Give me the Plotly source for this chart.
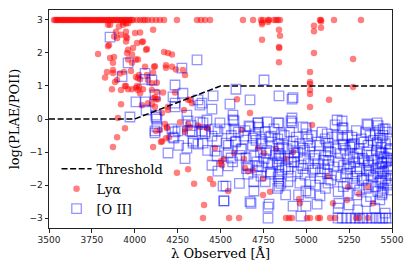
import plotly.graph_objects as go

# threshold curve
thr_wave = [3500, 4000, 4500, 5500]
thr_ratio = [0, 0, 1, 1]

# Lya sources: top row clipped at 3
lya_top_wave = [
    3529, 3538, 3546, 3553, 3561, 3570, 3578, 3586, 3594, 3603, 3611, 3619,
    3628, 3636, 3645, 3653, 3662, 3670, 3679, 3688, 3697, 3705, 3714, 3722,
    3731, 3740, 3748, 3757, 3766, 3775, 3783, 3792, 3800, 3809, 3818, 3826,
    3835, 3844, 3852, 3861, 3870, 3878, 3887, 3896, 3904, 3913, 3921, 3930,
    3939, 3947, 3956, 3965, 3973, 3982, 3990, 4013, 4031, 4048, 4060, 4077,
    4100, 4124, 4147, 4171, 4246, 4363, 4386, 4410, 4439, 4631, 4690, 4736,
    4748, 4777, 4783, 4812, 4824, 4835, 4847, 5080, 5086, 5162, 5319,
]

lya_wave = [
    3844, 3856, 3908, 3949, 3932, 3891, 3920, 3897, 3949, 3949,
    3955, 4002, 4031, 4107, 3844, 3850, 3880, 3949, 4013, 4042,
    4048, 3961, 3955, 3984, 3990, 4066, 4071, 3786, 3856, 3879,
    3873, 3961, 3984, 4007, 4019, 4171, 4194, 4217, 3873, 3838,
    3827, 3873, 3914, 3937, 3978, 4007, 3897, 3885, 4112, 4060,
    4118, 4182, 4182, 4217, 4240, 4281, 4293, 4107, 4025, 4071,
    4019, 4031, 4077, 4100, 4129, 4013, 4025, 4048, 3943, 3961,
    3984, 3867, 3920, 3949, 4007, 4019, 4031, 4129, 4165, 4235,
    4100, 4118, 4124, 4107, 4135, 4077, 4042, 4100, 4194, 4322,
    4334, 4287, 3920, 3902, 3943, 3897, 3873, 4107, 4246, 4311,
    4346, 4404, 4398, 4439, 4457, 4153, 4159, 4182, 4200, 4124,
    4176, 4188, 4293, 4311, 4369, 4422, 4468, 4497, 4509, 4625,
    4503, 4544, 4748, 4789, 4958, 4963, 4550, 4608, 4882, 4900,
    4917, 5004, 5022, 5069, 5080, 5139, 5168, 5290, 5308, 5360,
    4719, 4748, 4660, 4690, 4579, 4520, 4637, 4824, 4882, 4923,
    4754, 5238, 5156, 5034, 5244, 5308, 5360, 5390, 5127, 4742,
    4841, 4847, 4841, 4843, 4841, 5045, 5022, 5022, 5022, 5022,
    5022, 5022, 5273, 5273, 5133, 4596, 4672, 4742, 4742, 4777,
    5086, 5086, 5045, 5045, 3932, 3961, 4147, 4188, 4264, 4322,
    4380, 4421, 4293, 4643, 4311, 4118, 4159, 4194,
]
lya_ratio = [
    2.85, 2.85, 2.80, 2.90, 2.85, 2.64, 2.55, 2.45, 2.64, 2.50,
    2.45, 2.60, 2.62, 2.70, 2.20, 2.24, 2.50, 2.35, 2.30, 2.33,
    2.35, 2.10, 2.00, 1.95, 2.15, 2.10, 2.12, 1.97, 1.85, 1.88,
    1.70, 1.80, 1.70, 1.80, 1.80, 2.03, 2.00, 1.95, 1.48, 1.42,
    1.26, 1.39, 1.38, 1.42, 1.45, 1.27, 1.18, 1.12, 1.58, 1.58,
    1.60, 1.63, 1.55, 1.58, 1.50, 1.48, 1.33, 1.40, 1.33, 1.33,
    1.23, 1.20, 1.18, 1.08, 1.10, 1.00, 0.97, 0.90, 1.00, 0.90,
    0.90, 0.90, 0.88, 1.00, 0.94, 0.88, 0.78, 0.82, 0.80, 0.80,
    0.88, 0.66, 0.60, 0.63, 0.60, 0.48, 0.42, 0.45, 0.37, 0.58,
    0.48, 0.27, 0.45, 0.03, -0.28, -0.55, -0.85, -0.85, -1.63, -1.52,
    -1.96, -2.60, -3.00, -1.82, -1.97, -0.70, -0.67, -0.58, -0.55, -0.36,
    -0.15, -0.25, -0.30, -0.15, -0.20, -0.27, -0.88, -1.33, -1.40, -0.33,
    -1.27, -2.18, -2.30, -2.20, -2.42, -2.55, -3.00, -3.00, -3.00, -3.00,
    -3.00, -3.00, -3.00, -3.00, -3.00, -3.00, -3.00, -3.00, -3.00, -3.00,
    -0.88, -1.80, -1.58, -1.55, -1.03, -1.20, -1.20, -0.90, -1.20, -1.00,
    -1.03, -2.45, -2.55, -0.18, -2.06, -2.27, -2.06, -2.55, -1.73, 2.40,
    2.70, 2.52, 2.18, 2.15, 1.72, 2.00, 1.42, 1.12, 1.06, 0.88,
    0.76, 0.36, 1.82, 0.97, 0.58, 0.60, 0.18, 2.92, 2.87, 2.94,
    2.95, 2.76, 2.82, 2.66, 2.93, 2.90, -0.33, -0.27, -0.10, -0.24,
    -0.24, -0.27, -0.39, -1.48, 0.58, 0.37, 0.18, 0.27,
]

# [O II] sources
oii_wave = [
    3856, 3961, 4363, 4275, 3926, 4060, 4100, 4060, 4235, 4118,
    4007, 4060, 4223, 4235, 4281, 4369, 4380, 4066, 4124, 4235,
    3972, 4124, 4304, 4380, 4129, 4118, 4235, 4334, 4410, 4754,
    4590, 4457, 4672, 4555, 4841, 4917, 4923, 4392, 4450, 4421,
    4573, 4573, 4497, 4672, 4719, 4771, 4835, 4917, 4917, 4981,
    5180, 5209, 5168, 5360, 5419, 5448, 4129, 4118, 4194, 4229,
    4252, 4217, 4311, 4322, 4304, 4293, 4340, 4369, 4398, 4410,
    4392, 4450, 4468, 4485, 4480, 4468, 4480, 4485, 4515, 4520,
    4223, 4340, 4398, 4579, 4579, 4532, 4666, 4719, 4841, 4911,
    4998, 4590, 4532, 4637, 4690, 4736, 4794, 4841, 4841, 4841,
    4841, 4841, 4841, 4841, 4841, 4923, 4923, 4929, 4929, 4981,
    4987, 4981, 4963, 4544, 4544, 4562, 4620, 4649, 4660, 4660,
    4695, 4724, 4765, 4777, 4736, 4794, 4894, 4894, 4911, 4532,
    4520, 4678, 4783, 4923, 4777, 4969, 4695, 4998, 4672, 4777,
    5209, 5215, 5354, 5413, 5460, 5022, 5010, 5051, 5051, 5127,
    5127, 5127, 5127, 5080, 5215, 5267, 5218, 5264, 5238, 5238,
    5238, 5308, 5296, 5360, 5366, 5413, 5430, 5442, 5442, 5442,
    5442, 5442, 5471, 5489, 5477, 5477, 5022, 5080, 5063, 4998,
    5186, 4563, 4546, 4571, 4604, 4587, 4612, 4643, 4626, 4651,
    4703, 4687, 4712, 4694, 4722, 4707, 4733, 4715, 4762, 4738,
    4755, 4741, 4761, 4783, 4770, 4791, 4812, 4799, 4820, 4803,
    4856, 4834, 4851, 4830, 4858, 4836, 4852, 4833, 4872, 4861,
    4878, 4903, 4888, 4912, 4893, 4942, 4930, 4949, 4962, 4951,
    4970, 4955, 5003, 4990, 5011, 4993, 5032, 5020, 5039, 5024,
    5062, 5050, 5069, 5053, 5092, 5080, 5099, 5083, 5122, 5110,
    5129, 5113, 5131, 5108, 5124, 5112, 5152, 5140, 5159, 5143,
    5182, 5170, 5189, 5173, 5186, 5212, 5200, 5219, 5203, 5216,
    5242, 5230, 5249, 5233, 5246, 5267, 5255, 5274, 5258, 5271,
    5292, 5280, 5299, 5283, 5296, 5281, 5295, 5322, 5310, 5329,
    5313, 5326, 5311, 5347, 5335, 5354, 5338, 5351, 5336, 5350,
    5372, 5360, 5379, 5363, 5376, 5361, 5375, 5402, 5390, 5409,
    5393, 5406, 5391, 5405, 5427, 5415, 5434, 5418, 5431, 5416,
    5430, 5417, 5429, 5447, 5437, 5454, 5440, 5451, 5438, 5450,
    5441, 5472, 5462, 5479, 5465, 5476, 5463, 5474, 5492, 5484,
    5494, 5486, 5493, 5488, 5185, 5210, 5235, 5260, 5285, 5310,
    5330, 5355, 5380, 5405, 5425, 5445, 5465, 5485, 5250, 5300,
    5400, 5460, 5350, 5190, 4256, 4425, 4450, 4330, 4610, 4880,
]
oii_ratio = [
    2.48, 1.70, 1.79, 1.54, 1.28, 1.38, 1.18, 1.20, 1.03, 0.73,
    0.52, 0.52, 0.67, 0.48, 0.78, 0.58, 0.42, 0.27, 0.12, 0.37,
    0.06, 0.06, 0.12, -0.09, -0.24, -0.42, -0.39, -0.39, -0.39, 1.18,
    0.90, 0.70, 0.58, 0.45, 0.70, 0.60, 0.65, 0.48, 0.30, -0.03,
    0.12, -0.03, -0.12, -0.24, -0.12, -0.09, -0.12, 0.03, -0.12, -0.24,
    -0.03, -0.27, -0.18, -0.18, -0.20, -0.30, 0.00, -0.36, -1.03, -0.58,
    -0.36, -0.30, -0.06, -0.36, -0.88, -1.20, -0.67, -0.76, -0.12, -0.45,
    -0.36, -0.52, -0.30, -0.36, -0.67, -0.97, -1.12, -1.58, -2.03, -2.48,
    -0.55, -0.73, -0.73, -0.06, -0.30, -0.30, -0.21, -0.12, -0.12, -0.06,
    -0.27, -0.67, -0.73, -0.52, -0.58, -0.61, -0.52, -0.76, -0.90, -1.05,
    -1.20, -1.40, -1.67, -1.88, -2.03, -0.67, -0.82, -1.03, -1.30, -0.88,
    -1.20, -1.50, -1.94, -1.03, -1.42, -1.18, -0.91, -1.18, -1.42, -1.67,
    -1.12, -1.42, -1.03, -1.33, -1.73, -1.67, -1.20, -1.52, -1.73, -2.03,
    -2.48, -2.55, -2.58, -2.64, -3.00, -2.94, -2.18, -2.18, -2.50, -2.67,
    -0.06, -0.27, -0.15, -0.12, -0.30, -0.82, -0.61, -1.20, -1.50, -0.97,
    -0.73, -1.38, -1.94, -1.80, -0.76, -0.76, -0.80, -0.80, -1.20, -1.52,
    -1.94, -1.20, -1.73, -1.33, -1.58, -0.76, -0.58, -1.03, -1.33, -1.58,
    -1.94, -2.24, -1.18, -0.91, -1.45, -1.94, -2.24, -2.33, -2.58, -2.64,
    -2.70, -0.50, -0.80, -1.30, -0.40, -0.70, -1.10, -0.35, -0.90, -1.50,
    -0.45, -0.80, -1.30, -1.90, -0.25, -0.65, -1.00, -1.55, -0.40, -0.75,
    -1.20, -1.45, -1.90, -0.55, -0.95, -1.60, -0.30, -0.70, -1.10, -1.35,
    -0.45, -0.60, -1.10, -1.30, -1.55, -1.75, -1.95, -2.10, -0.50, -0.85,
    -1.45, -0.40, -0.90, -1.30, -1.90, -0.55, -1.15, -1.60, -0.75, -1.00,
    -1.40, -2.30, -0.45, -0.95, -1.35, -1.70, -0.50, -1.00, -1.55, -1.90,
    -0.70, -1.10, -1.35, -2.00, -0.40, -0.80, -1.25, -1.60, -0.45, -0.60,
    -0.85, -1.10, -1.25, -1.50, -1.65, -2.10, -0.55, -1.00, -1.45, -1.85,
    -0.50, -0.90, -1.30, -1.70, -2.20, -0.60, -1.05, -1.40, -1.75, -2.05,
    -0.50, -0.95, -1.35, -1.65, -2.25, -0.55, -0.85, -1.15, -1.45, -1.80,
    -0.35, -0.75, -1.05, -1.30, -1.60, -1.95, -2.30, -0.60, -0.90, -1.20,
    -1.50, -1.85, -2.15, -0.40, -0.70, -1.00, -1.25, -1.55, -1.80, -2.10,
    -0.50, -0.80, -1.10, -1.40, -1.70, -2.00, -2.35, -0.45, -0.65, -0.95,
    -1.25, -1.50, -1.75, -2.05, -0.35, -0.70, -1.00, -1.20, -1.45, -1.65,
    -1.90, -2.20, -2.45, -0.50, -0.85, -1.15, -1.35, -1.60, -1.85, -2.10,
    -2.30, -0.40, -0.75, -1.05, -1.30, -1.55, -1.80, -2.00, -0.60, -0.95,
    -1.25, -1.50, -1.70, -2.15, -3.00, -3.00, -3.00, -3.00, -3.00, -3.00,
    -3.00, -3.00, -3.00, -3.00, -3.00, -3.00, -3.00, -3.00, -2.60, -2.75,
    -2.70, -2.85, -2.50, -2.55, -0.80, -0.95, -1.40, -0.20, -1.95, -2.30,
]

x_ticks = [3500, 3750, 4000, 4250, 4500, 4750, 5000, 5250, 5500]
y_ticks = [-3, -2, -1, 0, 1, 2, 3]

serif = "DejaVu Serif"
sans = "DejaVu Sans"

fig = go.Figure()

fig.add_trace(go.Scatter(
    x=lya_top_wave + lya_wave, y=[3] * len(lya_top_wave) + lya_ratio,
    mode="markers", name="Lyα", legendrank=2,
    marker=dict(symbol="circle", size=6.5, color="rgba(255,0,0,0.5)", line=dict(width=0)),
))
fig.add_trace(go.Scatter(
    x=oii_wave, y=oii_ratio,
    mode="markers", name="[O II]", legendrank=3,
    marker=dict(symbol="square-open", size=9.5, color="rgba(0,0,255,0.42)", line=dict(width=1.3)),
))
fig.add_trace(go.Scatter(
    x=thr_wave, y=thr_ratio, mode="lines", name="Threshold", legendrank=1,
    line=dict(color="black", width=1.5, dash="6px,2.6px"),
))

axis_common = dict(
    showgrid=False, zeroline=False, showline=True, mirror=True, automargin=False,
    linecolor="#222", linewidth=1, ticks="outside", ticklen=3.5, tickwidth=0.8,
    tickcolor="#222", tickfont=dict(family=sans, size=9, color="#222"),
)

fig.update_layout(
    width=415, height=277,
    margin=dict(l=49, r=23, t=10, b=49, autoexpand=False),
    plot_bgcolor="white", paper_bgcolor="white",
    showlegend=True,
    legend=dict(
        x=0.022, y=0.34, xanchor="left", yanchor="top",
        bgcolor="rgba(0,0,0,0)", borderwidth=0,
        font=dict(family=serif, size=13, color="black"),
    ),
    xaxis=dict(
        range=[3500, 5500], tickvals=x_ticks,
        title=dict(text="λ Observed [Å]", font=dict(family=serif, size=13, color="black"), standoff=4),
        **axis_common,
    ),
    yaxis=dict(
        range=[-3.3, 3.3], tickvals=y_ticks,
        title=dict(text="log(PLAE/POII)", font=dict(family=serif, size=13, color="black"), standoff=6),
        **axis_common,
    ),
)

# drop the default page margin so the figure sits at the window corner
fig.write_html("out.html", config={"displayModeBar": False},
               post_script="document.body.style.margin='0';")
